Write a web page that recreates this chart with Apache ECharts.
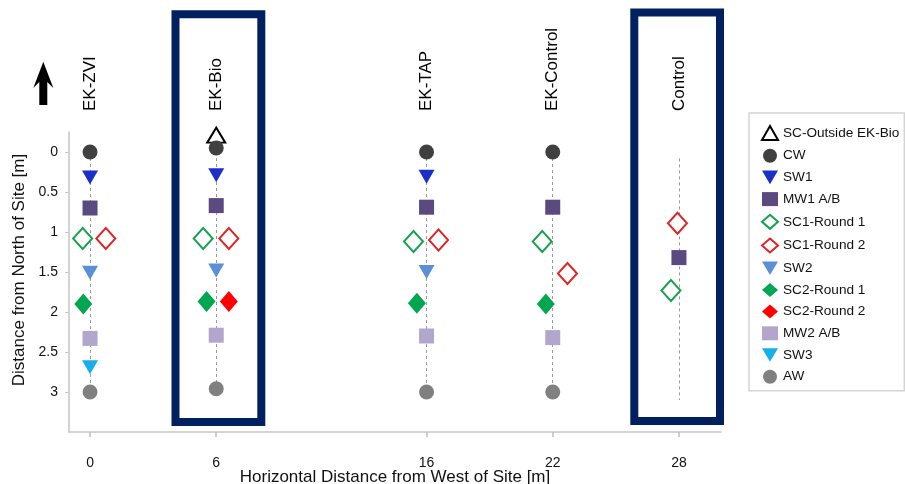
<!DOCTYPE html>
<html>
<head>
<meta charset="utf-8">
<script src="https://cdn.jsdelivr.net/npm/echarts@6/dist/echarts.min.js"></script>
<style>
  html, body { margin: 0; padding: 0; background: #fff; }
  #chart { width: 905px; height: 484px; }
</style>
</head>
<body>
<div id="chart"></div>
<script>
// site columns (top labels)
const siteNames = ['EK-ZVI', 'EK-Bio', 'EK-TAP', 'EK-Control', 'Control']
const siteX = [0, 6, 16, 22, 28]
const yTicks = [0, 0.5, 1, 1.5, 2, 2.5, 3]
// dashed guide lines per column
const guideTop = [0, 0, 0, 0, 0.08]
const guideBottom = [3, 3, 3, 3, 3.1]

// sample points [x, distance from north]
const scOutside = [[6, -0.21]]
const cw = [[0, 0], [6, -0.05], [16, 0], [22, 0]]
const sw1 = [[0, 0.32], [6, 0.29], [16, 0.31]]
const mw1 = [[0, 0.7], [6, 0.67], [16, 0.69], [22, 0.69], [28, 1.32]]
const sc1r1 = [[-0.35, 1.08], [5.38, 1.08], [15.38, 1.12], [21.5, 1.12], [27.62, 1.73]]
const sc1r2 = [[0.75, 1.08], [6.6, 1.08], [16.57, 1.1], [22.7, 1.52], [27.93, 0.89]]
const sw2 = [[0, 1.51], [6, 1.48], [16, 1.5]]
const sc2r1 = [[-0.32, 1.9], [5.54, 1.87], [15.54, 1.89], [21.67, 1.9]]
const sc2r2 = [[6.6, 1.87]]
const mw2 = [[0, 2.33], [6, 2.29], [16, 2.3], [22, 2.32]]
const sw3 = [[0, 2.69]]
const aw = [[0, 3.0], [6, 2.96], [16, 3.0], [22, 3.0]]

const FONT = 'Liberation Sans, Arial, sans-serif'
const downTri = 'path://M0,0L20,0L10,17Z'

const scatter = (name, data, symbol, size, color, hollow) => ({
    name,
    type: 'scatter',
    data,
    symbol,
    symbolSize: size,
    z: 5,
    itemStyle: hollow
        ? { color: '#fff', borderColor: color, borderWidth: 2, opacity: 1 }
        : { color: color, opacity: 1 },
    emphasis: { disabled: true }
})

const series = [
    // guide lines, not in legend
    {
        type: 'line',
        data: [],
        silent: true,
        z: 1,
        markLine: {
            symbol: 'none',
            silent: true,
            label: { show: false },
            lineStyle: { color: '#9a9a9a', width: 1, type: [3, 3] },
            data: siteX.map((x, i) => [{ coord: [x, guideTop[i]] }, { coord: [x, guideBottom[i]] }])
        }
    },
    scatter('SC-Outside EK-Bio', scOutside, 'triangle', [18, 15], '#000', true),
    scatter('CW', cw, 'circle', 15, '#404040'),
    scatter('SW1', sw1, downTri, [16, 14], '#1a2ec8'),
    scatter('MW1 A/B', mw1, 'rect', 15, '#5b4a80'),
    scatter('SC1-Round 1', sc1r1, 'diamond', [19, 21], '#17a04f', true),
    scatter('SC1-Round 2', sc1r2, 'diamond', [19, 21], '#e02424', true),
    scatter('SW2', sw2, downTri, [16, 14], '#5b8fd6'),
    scatter('SC2-Round 1', sc2r1, 'diamond', [18, 21], '#00a651'),
    scatter('SC2-Round 2', sc2r2, 'diamond', [18, 21], '#ff0000'),
    scatter('MW2 A/B', mw2, 'rect', 15, '#b3a6cc'),
    scatter('SW3', sw3, downTri, [16, 14], '#17afea'),
    scatter('AW', aw, 'circle', 15, '#808080')
]

const chart = echarts.init(document.getElementById('chart'))
const option = {
    animation: false,
    backgroundColor: '#fff',
    textStyle: { fontFamily: FONT },
    grid: { left: 69, top: 132, width: 652, height: 300, outerBoundsMode: 'none', containLabel: false },
    legend: {
        orient: 'vertical',
        left: 749,
        top: 113,
        padding: [12, 5, 7, 12],
        itemWidth: 16,
        itemHeight: 14,
        itemGap: 7.7,
        borderColor: '#d4d4d4',
        borderWidth: 1.5,
        textStyle: { fontFamily: FONT, fontSize: 13.6, color: '#111' },
        data: series.filter(s => s.name).map(s => s.name)
    },
    xAxis: [{
        type: 'value',
        min: -1,
        max: 30,
        name: 'Horizontal Distance from West of Site [m]',
        nameLocation: 'middle',
        nameGap: 37,
        nameMoveOverlap: false,
        nameTextStyle: { fontFamily: FONT, fontSize: 17, color: '#111', verticalAlign: 'top' },
        axisLine: { onZero: false, lineStyle: { color: '#c6c6c6', width: 1.5 } },
        axisTick: { show: true, length: 5, customValues: siteX, lineStyle: { color: '#bdbdbd', width: 1.5 } },
        axisLabel: { customValues: siteX, margin: 24, fontSize: 14, color: '#111' },
        splitLine: { show: false }
    }, {
        // top axis used for site labels
        type: 'value',
        position: 'top',
        min: -1,
        max: 30,
        axisLine: { show: false, onZero: false },
        axisTick: { show: false },
        splitLine: { show: false },
        axisLabel: {
            customValues: siteX,
            rotate: -90,
            margin: 21,
            fontSize: 17,
            color: '#000',
            formatter: v => siteNames[siteX.indexOf(v)] || ''
        }
    }],
    yAxis: {
        type: 'value',
        inverse: true,
        min: -0.25,
        max: 3.5,
        name: 'Distance from North of Site [m]',
        nameLocation: 'middle',
        nameGap: 41,
        nameRotate: 90,
        nameMoveOverlap: false,
        nameTextStyle: { fontFamily: FONT, fontSize: 17, color: '#111', padding: [0, 0, 0, 24] },
        axisLine: { show: true, onZero: false, lineStyle: { color: '#c6c6c6', width: 1.5 } },
        axisTick: { show: true, length: 4, customValues: yTicks, lineStyle: { color: '#c6c6c6' } },
        axisLabel: { customValues: yTicks, margin: 11, fontSize: 14, color: '#111' },
        splitLine: { show: false }
    },
    graphic: [
        // north arrow
        {
            type: 'polygon',
            shape: { points: [[43.3, 61.7], [53.3, 88], [47.3, 82], [47.3, 105], [39.3, 105], [39.3, 82], [33.3, 88]] },
            style: { fill: '#000' }
        },
        // highlight boxes
        {
            type: 'rect',
            shape: { x: 175.5, y: 14.2, width: 85.8, height: 407.8 },
            style: { fill: 'none', stroke: '#002060', lineWidth: 8 },
            z: 0
        },
        {
            type: 'rect',
            shape: { x: 634.3, y: 12.5, width: 85.7, height: 408.5 },
            style: { fill: 'none', stroke: '#002060', lineWidth: 8 },
            z: 0
        }
    ],
    series: series
}
chart.setOption(option)
</script>
</body>
</html>
